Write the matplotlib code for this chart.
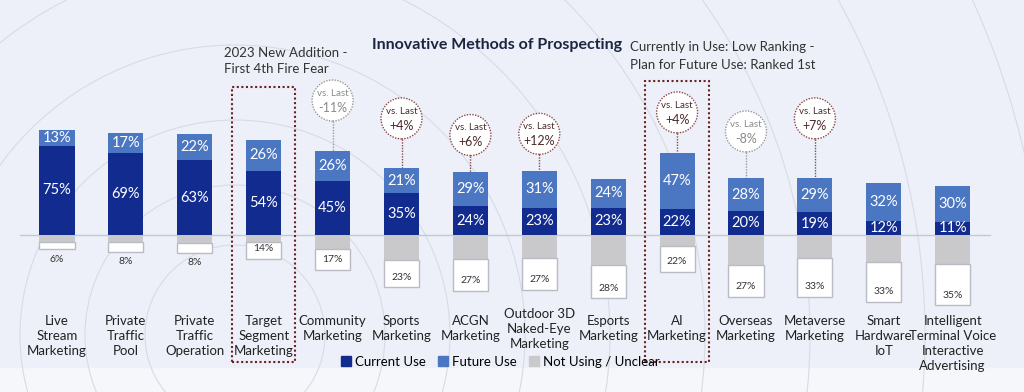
import matplotlib.pyplot as plt
from matplotlib.patches import Ellipse, Rectangle, Circle
from matplotlib.lines import Line2D

plt.rcParams['font.family'] = ['Lato', 'DejaVu Sans']

# data
categories = ["Live\nStream\nMarketing", "Private\nTraffic\nPool", "Private\nTraffic\nOperation",
              "Target\nSegment\nMarketing", "Community\nMarketing", "Sports\nMarketing",
              "ACGN\nMarketing", "Outdoor 3D\nNaked-Eye\nMarketing", "Esports\nMarketing",
              "AI\nMarketing", "Overseas\nMarketing", "Metaverse\nMarketing",
              "Smart\nHardware\nIoT", "Intelligent\nTerminal Voice\nInteractive\nAdvertising"]
current_use = [75, 69, 63, 54, 45, 35, 24, 23, 23, 22, 20, 19, 12, 11]
future_use = [13, 17, 22, 26, 26, 21, 29, 31, 24, 47, 28, 29, 32, 30]
not_using = [6, 8, 8, 14, 17, 23, 27, 27, 28, 22, 27, 33, 33, 35]
remainder = [6, 6, 7, 6, 12, 21, 20, 19, 25, 9, 25, 19, 23, 24]

# "vs. Last" bubbles: category index, text, height of bubble centre
change_idx = [4, 5, 6, 7, 9, 10, 11]
change_txt = ["-11%", "+4%", "+6%", "+12%", "+4%", "-8%", "+7%"]
change_y = [113, 98, 84, 85, 103, 87, 98]
highlight_idx = [3, 9]
highlight_top = [124, 129]

C_CUR = '#112b8e'
C_FUT = '#4a76c2'
C_GRAY = '#c9c9cb'
C_RED = '#6b2222'

W, H = 1024, 392
fig = plt.figure(figsize=(W / 100, H / 100), dpi=100)
fig.patch.set_facecolor('#f6f7fb')

# background panel with concentric rings
bg = fig.add_axes([0, 0, 1, 1])
bg.set_xlim(0, W)
bg.set_ylim(H, 0)
bg.axis('off')
bg.add_patch(Rectangle((0, 0), W, 367, color='#edf0f8', zorder=0))
for r in [90, 150, 215, 290, 375, 470, 575, 690, 810, 940]:
    bg.add_patch(Circle((235, 335), r, fill=False, ec='#d7dbe7', lw=0.8, zorder=1))

# main axes: x = category index, y = percent (baseline 0)
px_per_x = 68.9
px_per_y = 1.19
x0_px, base_px = 57, 235
ax = fig.add_axes([0, 0, 1, 1])
ax.set_facecolor('none')
ax.set_xlim(-x0_px / px_per_x, (W - x0_px) / px_per_x)
ax.set_ylim(-(H - base_px) / px_per_y, base_px / px_per_y)
ax.axis('off')

x = list(range(len(categories)))
bw = 0.51
ax.axhline(0, xmin=20 / W, xmax=990 / W, color='#c4c8d6', lw=1, zorder=2)
ax.bar(x, current_use, bw, color=C_CUR, zorder=3)
ax.bar(x, future_use, bw, bottom=current_use, color=C_FUT, zorder=3)
ax.bar(x, [-v for v in remainder], bw, color=C_GRAY, zorder=3)
low = [-v for v in remainder]
ax.bar(x, [-v for v in not_using], bw, bottom=low, color='white',
       edgecolor='#b9bcc4', lw=1, zorder=3)

for i in x:
    ax.text(i, current_use[i] / 2, f"{current_use[i]}%", ha='center', va='center',
            color='white', fontsize=10.5, zorder=4)
    ax.text(i, current_use[i] + future_use[i] / 2, f"{future_use[i]}%", ha='center',
            va='center', color='white', fontsize=10.5, zorder=4)
    bottom = -(remainder[i] + not_using[i])
    ly = bottom + 8.4 if not_using[i] >= 10 else bottom - 8.4
    ax.text(i, ly, f"{not_using[i]}%", ha='center', va='center', color='#333333',
            fontsize=7.5, zorder=4)
    ty = -67 if i != 7 else -61
    ax.text(i, ty, categories[i], ha='center', va='top', fontsize=9.5,
            color='#222222', linespacing=1.3, zorder=4)

# vs. Last bubbles
rx = 20.5 / px_per_x
ry = 20.5 / px_per_y
for i, t, cy in zip(change_idx, change_txt, change_y):
    pos = t.startswith('+')
    ec = '#8a4a4a' if pos else '#9a9a9a'
    tc = '#4a2a2a' if pos else '#8a8a8a'
    ax.add_patch(Ellipse((i, cy), 2 * rx, 2 * ry, fill=True, fc='white', ec=ec,
                         ls=(0, (1, 1)), lw=1, zorder=4))
    ax.plot([i, i], [cy - ry, current_use[i] + future_use[i]], color=ec,
            ls=(0, (1, 1)), lw=1, zorder=2)
    ax.text(i, cy + 6, "vs. Last", ha='center', va='center', fontsize=7, color=tc, zorder=5)
    ax.text(i, cy - 6, t, ha='center', va='center', fontsize=9, color=tc, zorder=5)

# dotted highlight boxes
for i, top in zip(highlight_idx, highlight_top):
    hw = 0.46
    ax.add_patch(Rectangle((i - hw, -107), 2 * hw, top + 107, fill=False, ec=C_RED,
                           ls=(0, (1, 1.2)), lw=1.5, zorder=5))

fig.text(497 / W, 1 - 45 / H, "Innovative Methods of Prospecting", ha='center',
         va='center', fontsize=11.5, fontweight='bold', color='#1c2540')
fig.text(224 / W, 1 - 61 / H, "2023 New Addition -\nFirst 4th Fire Fear", ha='left',
         va='center', fontsize=9.5, color='#333333', linespacing=1.45)
fig.text(630 / W, 1 - 56 / H, "Currently in Use: Low Ranking -\nPlan for Future Use: Ranked 1st",
         ha='left', va='center', fontsize=9.5, color='#333333', linespacing=1.65,
         multialignment='center')

handles = [Line2D([], [], ls='none', marker='s', markersize=7, color=c)
           for c in (C_CUR, C_FUT, C_GRAY)]
fig.legend(handles, ["Current Use", "Future Use", "Not Using / Unclear"], loc='center',
           bbox_to_anchor=(500 / W, 1 - 362 / H), ncol=3, frameon=False, fontsize=9.5,
           handlelength=0.8, handletextpad=0.3, columnspacing=0.9)

fig.savefig('out.png', dpi=100)
